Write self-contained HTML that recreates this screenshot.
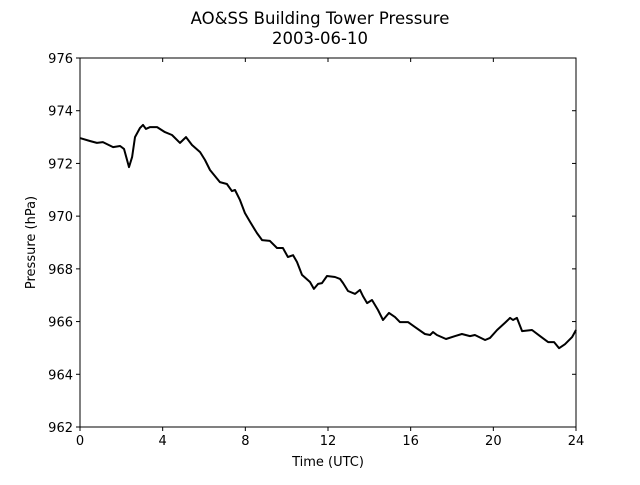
<!DOCTYPE html>
<html><head><meta charset="utf-8"><style>
body{margin:0;background:#fff}
svg text{font-family:"DejaVu Sans","Liberation Sans",sans-serif;fill:#000}
</style></head><body>
<svg id="chart" width="640" height="480" viewBox="0 0 640 480" xmlns="http://www.w3.org/2000/svg">
<rect width="640" height="480" fill="#fff"/>
<text x="320" y="24" font-size="16.5" text-anchor="middle">AO&amp;SS Building Tower Pressure</text>
<text x="320" y="44" font-size="16.5" text-anchor="middle">2003-06-10</text>
<g id="axes"></g>
<path id="line" fill="none" stroke="#000" stroke-width="2" stroke-linejoin="round"/>
<rect x="80" y="58" width="496" height="369" fill="none" stroke="#000" stroke-width="1"/>
<text x="328" y="466" font-size="13" text-anchor="middle">Time (UTC)</text>
<text transform="translate(35,242.5) rotate(-90)" font-size="13" text-anchor="middle">Pressure (hPa)</text>
</svg>
<script>
const times=[0,0.48,0.82,1.11,1.6,1.94,2.13,2.37,2.52,2.66,2.9,3.05,3.19,3.39,3.73,4.11,4.45,4.84,5.13,5.42,5.81,6.05,6.29,6.53,6.77,7.11,7.35,7.5,7.74,7.98,8.23,8.56,8.81,9.19,9.53,9.82,10.06,10.31,10.5,10.74,11.13,11.32,11.52,11.71,11.95,12.34,12.58,12.73,12.97,13.31,13.55,13.69,13.89,14.13,14.42,14.66,14.95,15.24,15.48,15.87,16.21,16.69,16.94,17.08,17.27,17.71,18.15,18.48,18.87,19.11,19.6,19.84,20.18,20.56,20.81,20.95,21.14,21.39,21.87,22.26,22.65,22.94,23.18,23.47,23.81,24];
const pressure=[972.96,972.85,972.78,972.81,972.62,972.66,972.55,971.86,972.24,973.0,973.34,973.46,973.31,973.38,973.38,973.19,973.08,972.78,973.0,972.7,972.43,972.13,971.75,971.52,971.29,971.22,970.95,970.99,970.61,970.12,969.78,969.36,969.09,969.06,968.79,968.79,968.45,968.52,968.26,967.77,967.5,967.24,967.43,967.46,967.73,967.69,967.62,967.46,967.16,967.05,967.2,966.97,966.7,966.82,966.44,966.06,966.33,966.17,965.98,965.98,965.79,965.53,965.49,965.6,965.49,965.34,965.45,965.53,965.45,965.49,965.3,965.38,965.68,965.95,966.14,966.06,966.14,965.64,965.68,965.45,965.22,965.22,964.99,965.14,965.41,965.68];
const xTicks=[0,4,8,12,16,20,24];
const yTicks=[962,964,966,968,970,972,974,976];
const X0=80,X1=576,Y0=427,Y1=58;
const xs=t=>X0+(t-0)/(24-0)*(X1-X0);
const ys=p=>Y0-(p-962)/(976-962)*(Y0-Y1);
const NS="http://www.w3.org/2000/svg";
const ax=document.getElementById('axes');
function mk(tag,attrs){const e=document.createElementNS(NS,tag);for(const k in attrs)e.setAttribute(k,attrs[k]);ax.appendChild(e);return e;}
xTicks.forEach(v=>{const x=xs(v);
 const t1=mk('line',{x1:x,x2:x,y1:Y0,y2:Y0+4,stroke:'#000'});
 
 
 const t2=mk('line',{x1:x,x2:x,y1:Y1,y2:Y1+4,stroke:'#000'});
 
 
 const l=mk('text',{x:x,y:Y0+18,'font-size':13,'text-anchor':'middle'});l.textContent=v;
 
 
});
yTicks.forEach(v=>{const y=ys(v);
 const t1=mk('line',{x1:X0-4,x2:X0,y1:y,y2:y,stroke:'#000'});
 
 
 const t2=mk('line',{x1:X1-4,x2:X1,y1:y,y2:y,stroke:'#000'});
 
 
 const l=mk('text',{x:X0-7,y:y+5,'font-size':13,'text-anchor':'end'});l.textContent=v;
 
 
});
document.getElementById('line').setAttribute('d',times.map((t,i)=>(i?'L':'M')+xs(t).toFixed(1)+','+ys(pressure[i]).toFixed(1)).join(''));
</script>
</body></html>
